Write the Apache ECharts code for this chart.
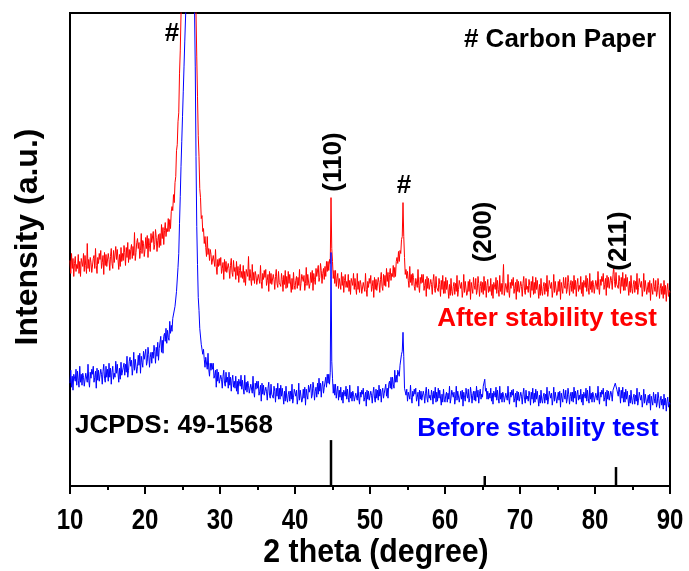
<!DOCTYPE html>
<html>
<head>
<meta charset="utf-8">
<script src="https://cdn.jsdelivr.net/npm/echarts@6/dist/echarts.min.js"></script>
<style>
  html, body { margin: 0; padding: 0; background: #fff; }
  #chart { width: 689px; height: 571px; }
</style>
</head>
<body>
<div id="chart"></div>
<script>
// XRD scan: 2-theta from 10 to 90 degrees, one reading every 0.1 degree
const ANGLE_START = 10;
const ANGLE_STEP = 0.1;

// Intensity after the stability test (a.u., offset trace), one row per degree
const afterTest = [
  226, 213, 233, 218, 228, 210, 223, 230, 215, 222,
  218, 232, 213, 225, 210, 228, 230, 220, 233, 215,
  231, 221, 213, 243, 218, 227, 215, 229, 224, 214,
  215, 228, 231, 218, 238, 221, 213, 229, 223, 233,
  227, 236, 218, 224, 231, 212, 234, 221, 232, 220,
  220, 233, 227, 216, 230, 238, 223, 218, 236, 224,
  222, 240, 227, 237, 235, 217, 232, 220, 239, 225,
  233, 226, 241, 234, 221, 239, 229, 244, 224, 237,
  227, 237, 242, 228, 240, 231, 254, 226, 234, 244,
  248, 238, 244, 228, 236, 253, 233, 246, 243, 230,
  237, 249, 238, 251, 229, 248, 241, 235, 253, 244,
  243, 255, 237, 242, 257, 249, 235, 246, 252, 239,
  253, 241, 262, 248, 259, 242, 256, 264, 250, 258,
  255, 268, 255, 267, 258, 275, 280, 276, 292, 284,
  304, 310, 336, 342, 365, 374, 413, 436, 472, 500,
  530, 560, 590, 620, 650, 670, 680, 690, 700, 700,
  700, 690, 680, 660, 630, 590, 540, 500, 474, 430,
  390, 351, 330, 298, 289, 268, 271, 255, 258, 243,
  250, 239, 230, 250, 232, 238, 226, 237, 232, 222,
  220, 231, 232, 220, 237, 220, 212, 227, 220, 228,
  221, 229, 213, 218, 224, 207, 227, 215, 225, 214,
  212, 223, 218, 208, 221, 228, 214, 210, 226, 215,
  219, 207, 225, 211, 220, 204, 216, 222, 209, 215,
  208, 221, 204, 215, 201, 217, 219, 210, 230, 206,
  217, 208, 201, 222, 206, 214, 203, 215, 211, 202,
  200, 212, 214, 203, 221, 205, 198, 213, 207, 216,
  209, 217, 201, 206, 212, 195, 215, 203, 213, 202,
  201, 212, 207, 197, 210, 217, 203, 199, 215, 204,
  206, 200, 213, 207, 195, 211, 202, 216, 198, 210,
  199, 215, 203, 212, 210, 194, 208, 197, 214, 201,
  197, 206, 210, 198, 209, 201, 217, 196, 203, 212,
  214, 205, 211, 196, 203, 219, 201, 212, 210, 198,
  203, 214, 204, 216, 196, 213, 207, 202, 218, 210,
  210, 221, 205, 209, 223, 216, 203, 213, 218, 207,
  220, 210, 225, 215, 225, 216, 227, 223, 289, 238,
  225, 208, 216, 203, 216, 200, 208, 213, 198, 208,
  208, 197, 214, 201, 210, 194, 206, 212, 199, 205,
  199, 212, 195, 206, 192, 208, 210, 201, 213, 197,
  208, 199, 192, 213, 197, 205, 194, 206, 202, 193,
  192, 204, 206, 195, 213, 197, 190, 205, 199, 208,
  203, 211, 195, 200, 206, 189, 209, 197, 207, 196,
  198, 209, 204, 194, 207, 214, 200, 196, 212, 201,
  211, 200, 218, 205, 214, 199, 212, 218, 206, 213,
  210, 221, 209, 219, 210, 225, 229, 223, 235, 225,
  236, 233, 247, 250, 284, 250, 229, 212, 217, 208,
  215, 206, 199, 220, 204, 212, 201, 213, 209, 200,
  196, 208, 210, 199, 217, 201, 194, 209, 203, 212,
  204, 212, 196, 201, 207, 190, 210, 198, 208, 197,
  196, 207, 202, 192, 205, 212, 198, 194, 210, 199,
  201, 195, 208, 202, 190, 206, 197, 211, 193, 205,
  193, 209, 197, 206, 204, 188, 202, 191, 208, 195,
  191, 200, 204, 192, 203, 195, 211, 190, 197, 206,
  207, 198, 204, 189, 196, 212, 194, 205, 203, 191,
  194, 205, 195, 207, 187, 204, 198, 193, 209, 201,
  197, 208, 192, 196, 210, 203, 190, 200, 205, 194,
  204, 192, 210, 196, 205, 189, 201, 207, 194, 200,
  195, 208, 191, 202, 188, 204, 206, 197, 209, 193,
  206, 197, 190, 211, 195, 203, 192, 204, 222, 191,
  191, 203, 205, 194, 212, 196, 189, 204, 198, 207,
  201, 209, 193, 198, 204, 187, 207, 195, 205, 194,
  194, 205, 200, 190, 203, 210, 196, 192, 208, 197,
  200, 194, 207, 201, 189, 205, 196, 210, 192, 204,
  193, 209, 197, 206, 204, 188, 202, 191, 208, 195,
  191, 200, 204, 192, 203, 195, 211, 190, 197, 206,
  207, 198, 204, 189, 196, 212, 194, 205, 203, 191,
  194, 205, 195, 207, 187, 204, 198, 193, 209, 201,
  198, 209, 193, 197, 211, 204, 191, 201, 206, 195,
  205, 193, 211, 197, 206, 190, 202, 208, 195, 201,
  197, 210, 193, 204, 190, 206, 208, 199, 211, 195,
  208, 199, 192, 213, 197, 205, 194, 206, 202, 193,
  194, 206, 208, 197, 215, 199, 192, 207, 201, 210,
  205, 213, 197, 202, 208, 191, 211, 199, 209, 198,
  199, 210, 206, 197, 212, 220, 205, 199, 214, 202,
  204, 198, 211, 205, 193, 209, 200, 214, 196, 208,
  196, 212, 200, 209, 207, 191, 205, 194, 211, 198,
  193, 202, 206, 194, 205, 197, 213, 192, 199, 208,
  208, 199, 205, 190, 197, 213, 195, 206, 204, 192,
  193, 204, 194, 206, 186, 203, 197, 192, 208, 200,
  195, 206, 190, 194, 208, 201, 188, 198, 203, 192,
  200, 188, 206, 192, 201, 185, 197, 203, 190, 196,
  194
];

// Intensity before the stability test (a.u.), one row per degree
const beforeTest = [
  103, 116, 99, 110, 96, 112, 114, 105, 117, 101,
  115, 106, 99, 120, 104, 112, 101, 113, 109, 100,
  101, 113, 115, 104, 122, 106, 99, 114, 108, 117,
  112, 120, 104, 109, 115, 98, 118, 106, 116, 105,
  106, 117, 112, 102, 115, 122, 108, 104, 120, 109,
  117, 105, 123, 109, 118, 102, 114, 120, 107, 113,
  109, 125, 113, 122, 120, 104, 118, 107, 124, 111,
  110, 119, 123, 111, 122, 114, 130, 109, 116, 125,
  129, 120, 126, 111, 118, 134, 116, 127, 125, 113,
  120, 131, 121, 133, 113, 130, 124, 119, 135, 127,
  126, 137, 121, 125, 139, 132, 119, 129, 134, 123,
  134, 128, 141, 135, 123, 139, 130, 144, 126, 138,
  136, 150, 134, 146, 133, 150, 153, 145, 158, 143,
  156, 149, 146, 165, 153, 161, 155, 168, 169, 166,
  180, 179, 195, 197, 219, 233, 263, 290, 320, 345,
  370, 395, 420, 445, 468, 490, 520, 550, 580, 600,
  600, 590, 570, 550, 520, 500, 480, 420, 330, 260,
  222, 189, 176, 158, 157, 142, 144, 132, 137, 127,
  119, 129, 128, 117, 133, 117, 110, 123, 116, 123,
  117, 123, 108, 111, 116, 99, 117, 105, 114, 103,
  101, 111, 107, 98, 110, 116, 103, 100, 114, 104,
  109, 98, 114, 101, 109, 95, 106, 111, 99, 105,
  98, 110, 95, 105, 92, 107, 108, 100, 111, 97,
  106, 98, 92, 111, 96, 104, 94, 105, 101, 93,
  91, 102, 103, 93, 110, 95, 89, 103, 97, 105,
  98, 105, 91, 95, 101, 85, 103, 92, 101, 91,
  89, 99, 95, 86, 98, 104, 91, 88, 102, 92,
  94, 88, 100, 95, 84, 98, 90, 103, 87, 98,
  87, 101, 90, 98, 97, 82, 95, 85, 100, 88,
  84, 92, 95, 85, 95, 87, 102, 83, 89, 97,
  98, 90, 96, 82, 88, 103, 86, 96, 95, 84,
  87, 97, 88, 99, 81, 97, 91, 87, 101, 94,
  92, 102, 88, 91, 104, 98, 86, 95, 99, 89,
  103, 92, 108, 95, 103, 89, 100, 105, 93, 99,
  98, 109, 99, 112, 103, 112, 102, 114, 234, 125,
  108, 93, 102, 91, 102, 88, 95, 100, 86, 96,
  89, 99, 86, 94, 83, 96, 98, 90, 100, 87,
  97, 89, 84, 101, 88, 94, 85, 95, 92, 85,
  84, 93, 95, 86, 100, 88, 82, 94, 89, 96,
  92, 98, 85, 89, 94, 80, 96, 87, 95, 86,
  86, 95, 91, 83, 93, 99, 88, 84, 97, 88,
  96, 86, 101, 90, 97, 84, 94, 98, 88, 93,
  92, 102, 90, 98, 88, 102, 105, 98, 109, 97,
  109, 102, 98, 116, 104, 111, 104, 116, 115, 110,
  121, 120, 132, 135, 154, 130, 98, 100, 91, 97,
  85, 94, 96, 87, 101, 89, 83, 95, 90, 97,
  92, 98, 85, 89, 94, 80, 96, 87, 95, 86,
  86, 95, 91, 83, 93, 99, 88, 84, 97, 88,
  91, 86, 96, 92, 82, 95, 88, 99, 84, 94,
  85, 98, 88, 96, 94, 81, 92, 84, 97, 87,
  84, 91, 94, 84, 93, 87, 100, 83, 88, 96,
  96, 89, 94, 82, 88, 100, 86, 95, 93, 84,
  86, 95, 87, 96, 80, 94, 89, 85, 98, 92,
  88, 97, 84, 88, 99, 93, 83, 91, 95, 86,
  95, 85, 100, 89, 96, 83, 93, 97, 87, 92,
  89, 100, 101, 107, 95, 98, 87, 95, 87, 93,
  88, 98, 85, 93, 82, 95, 97, 89, 99, 86,
  96, 88, 83, 100, 87, 93, 84, 94, 91, 84,
  84, 93, 95, 86, 100, 88, 82, 94, 89, 96,
  91, 97, 84, 88, 93, 79, 95, 86, 94, 85,
  85, 94, 90, 82, 92, 98, 87, 83, 96, 87,
  90, 85, 95, 91, 81, 94, 87, 98, 83, 93,
  84, 97, 87, 95, 93, 80, 91, 83, 96, 86,
  83, 90, 93, 83, 92, 86, 99, 82, 87, 95,
  95, 88, 93, 81, 87, 99, 85, 94, 92, 83,
  85, 94, 86, 95, 79, 93, 88, 84, 97, 91,
  87, 96, 83, 87, 98, 92, 82, 90, 94, 85,
  94, 84, 99, 88, 95, 82, 92, 96, 86, 91,
  87, 97, 84, 92, 81, 94, 96, 88, 98, 85,
  96, 88, 83, 100, 87, 93, 84, 94, 91, 84,
  84, 93, 95, 86, 100, 88, 82, 94, 89, 96,
  92, 98, 85, 89, 94, 80, 96, 87, 95, 86,
  86, 95, 92, 85, 96, 97, 95, 103, 103, 97,
  97, 90, 99, 94, 83, 96, 88, 99, 84, 94,
  84, 97, 87, 95, 93, 80, 91, 83, 96, 86,
  82, 89, 92, 82, 91, 85, 98, 81, 86, 94,
  93, 86, 91, 79, 85, 97, 83, 92, 90, 81,
  82, 91, 83, 92, 76, 90, 85, 81, 94, 88,
  83, 92, 79, 83, 94, 88, 78, 86, 90, 81,
  87, 77, 92, 81, 88, 75, 85, 89, 79, 84,
  82
];

// Reference pattern JCPDS 49-1568: peak positions and stick heights
const refAngles = [44.8, 65.3, 82.8];
const refHeights = [46, 10, 19];

// Axis range and tick labels
const X_MIN = 10, X_MAX = 90, X_STEP = 10;
const xTickLabels = [10, 20, 30, 40, 50, 60, 70, 80, 90];
const Y_MAX = 474;

const toPairs = arr => arr.map((v, i) => [+(ANGLE_START + i * ANGLE_STEP).toFixed(1), v]);

const FONT = '"Liberation Sans", Arial, sans-serif';

const chart = echarts.init(document.getElementById('chart'), null, { renderer: 'canvas' });

function label(text, x, y, extra) {
  const g = {
    type: 'text',
    x: x, y: y,
    z: 100,
    style: {
      text: text,
      fontFamily: FONT,
      fontWeight: 'bold',
      fontSize: 26,
      fill: '#000',
      align: 'center',
      verticalAlign: 'middle'
    }
  };
  if (extra) {
    if (extra.style) Object.assign(g.style, extra.style);
    ['rotation', 'scaleX'].forEach(k => { if (extra[k] !== undefined) g[k] = extra[k]; });
  }
  return g;
}

chart.setOption({
  animation: false,
  backgroundColor: '#fff',
  grid: {
    left: 70, right: 19, top: 13, bottom: 85,
    containLabel: false,
    outerBoundsMode: 'none',
    show: true, borderColor: '#000', borderWidth: 2, backgroundColor: 'transparent'
  },
  xAxis: {
    type: 'value',
    min: X_MIN, max: X_MAX, interval: X_STEP,
    axisLine: { show: true, onZero: false, lineStyle: { color: '#000', width: 2 } },
    axisTick: { show: true, inside: false, length: 8, lineStyle: { color: '#000', width: 2 } },
    minorTick: { show: true, splitNumber: 2, length: 4, lineStyle: { color: '#000', width: 2 } },
    axisLabel: { show: false },
    splitLine: { show: false }
  },
  yAxis: {
    type: 'value',
    min: 0, max: Y_MAX,
    axisLine: { show: true, lineStyle: { color: '#000', width: 2 } },
    axisTick: { show: false },
    axisLabel: { show: false },
    splitLine: { show: false }
  },
  series: [
    {
      name: 'After stability test',
      type: 'line',
      data: toPairs(afterTest),
      showSymbol: false,
      clip: true,
      lineStyle: { color: '#ff0000', width: 1 },
      z: 2
    },
    {
      name: 'Before stability test',
      type: 'line',
      data: toPairs(beforeTest),
      showSymbol: false,
      clip: true,
      lineStyle: { color: '#0000ff', width: 1 },
      z: 3
    },
    {
      name: 'JCPDS: 49-1568',
      type: 'custom',
      data: refAngles.map((a, i) => [a, refHeights[i]]),
      renderItem: function (params, api) {
        const base = api.coord([api.value(0), 0]);
        const top = api.coord([api.value(0), api.value(1)]);
        return {
          type: 'line',
          shape: { x1: base[0], y1: base[1], x2: top[0], y2: top[1] },
          style: { stroke: '#000', lineWidth: 2.5 }
        };
      },
      z: 4
    }
  ]
});

// Tick labels and axis titles, drawn in a condensed bold face
const tickGraphics = xTickLabels.map(v =>
  label(String(v), chart.convertToPixel({ xAxisIndex: 0 }, v), 521,
        { style: { fontSize: 30 }, scaleX: 0.8 })
);

chart.setOption({
  graphic: tickGraphics.concat([
    label('2 theta (degree)', 376, 553, { style: { fontSize: 34 }, scaleX: 0.89 }),
    label('Intensity (a.u.)', 28, 237, { style: { fontSize: 32 }, rotation: Math.PI / 2 }),
    label('#', 172, 34),
    label('#', 404, 186),
    label('# Carbon Paper', 560, 40),
    label('(110)', 334, 162, { rotation: Math.PI / 2 }),
    label('(200)', 484, 232, { rotation: Math.PI / 2 }),
    label('(211)', 619, 241, { rotation: Math.PI / 2 }),
    label('After stability test', 547, 319, { style: { fill: '#ff0000' } }),
    label('Before stability test', 538, 429, { style: { fill: '#0000ff' } }),
    label('JCPDS: 49-1568', 174, 426)
  ])
});
</script>
</body>
</html>
